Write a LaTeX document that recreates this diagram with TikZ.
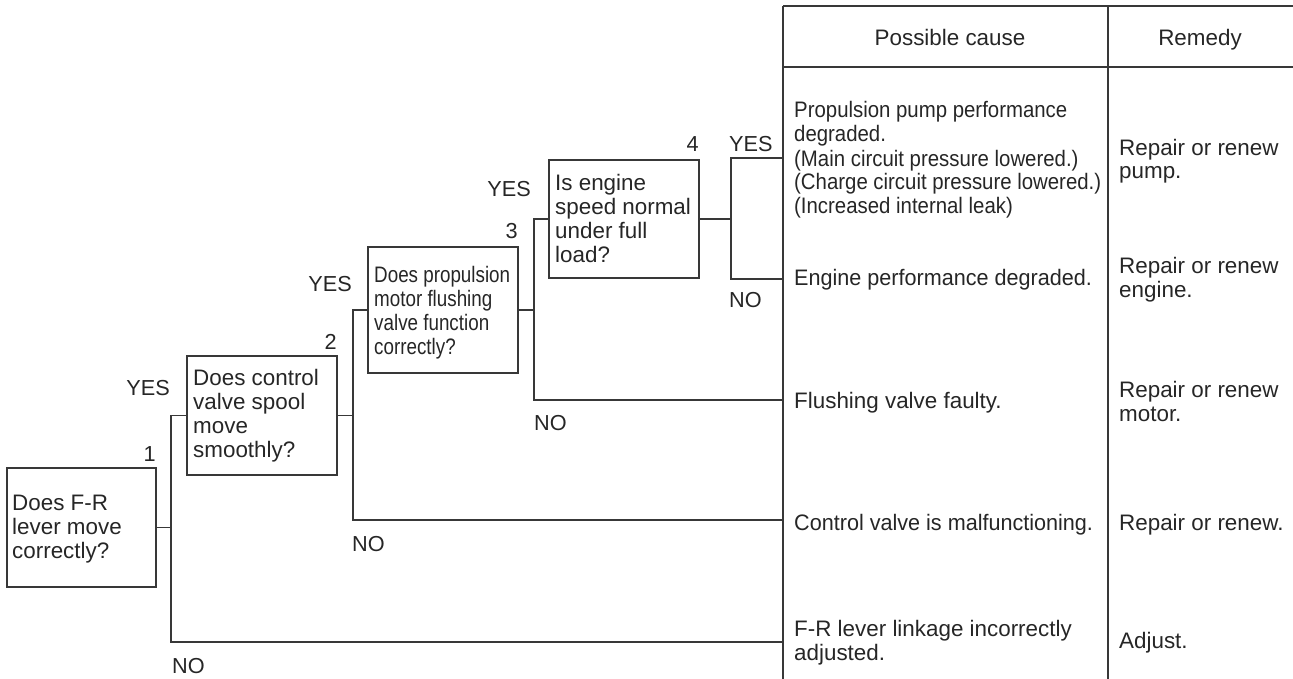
\documentclass[tikz,border=0pt]{standalone}
\usepackage{fontspec}
\setmainfont{Liberation Sans}
\newfontfamily\narrowfont[FakeStretch=0.84]{Liberation Sans}
\newfontfamily\condfont[FakeStretch=0.91]{Liberation Sans}
\newfontfamily\semifont[FakeStretch=0.964]{Liberation Sans}
\newcommand\sz{\fontsize{22.4}{24}\selectfont}
\begin{document}
\begin{tikzpicture}[x=1pt,y=-1pt,
  ink/.style={black!85},
  line/.style={draw=black!78,line width=1.2pt},
  qbox/.style={line,rectangle,inner sep=0pt,minimum width=150pt},
  txt/.style={ink,inner sep=0pt,anchor=base west,align=left,font=\sz},
  lab/.style={ink,inner sep=0pt,font=\fontsize{21.7}{24}\selectfont},
  num/.style={ink,inner sep=0pt,anchor=base east,font=\fontsize{21.7}{24}\selectfont}]
\useasboundingbox (0,0) rectangle (1293,679);

% question boxes
\node[qbox,minimum width=149pt,minimum height=119pt] (b1) at (81.5,527.5) {};
\node[qbox,minimum height=119pt] (b2) at (262,415.5) {};
\node[qbox,minimum height=126pt] (b3) at (443,310) {};
\node[qbox,minimum height=118pt] (b4) at (624,219) {};

% (base anchor of a multi-line node = baseline of its last line)
\node[txt] (t1) at (12,558) {Does F-R\\lever move\\correctly?};
\node[txt] (t2) at (193,457) {Does control\\valve spool\\move\\smoothly?};
\node[txt,font=\narrowfont\sz] (t3) at (374,354.5) {Does propulsion\\motor flushing\\valve function\\correctly?};
\node[txt] (t4) at (555,262.5) {Is engine\\speed normal\\under full\\load?};

\node[num] (n1) at (156,461) {1};
\node[num] (n2) at (337,349.5) {2};
\node[num] (n3) at (518,239) {3};
\node[num] (n4) at (699,151.5) {4};

% table
\coordinate (tl) at (783,6);
\coordinate (tr) at (1293,6);
\coordinate (hl) at (783,67);
\coordinate (hr) at (1293,67);
\coordinate (ml) at (1108,6);
\coordinate (bl) at (783,679);
\coordinate (bm) at (1108,679);
\draw[line] (tl) -- (tr);
\draw[line] (hl) -- (hr);
\draw[line] (tl) -- (bl);
\draw[line] (ml) -- (bm);

\node[txt,anchor=base] (hc) at (950,45.5) {Possible cause};
\node[txt,anchor=base] (hrm) at (1200,45.5) {Remedy};

\node[txt,font=\condfont\sz] (c1) at (794,214) {Propulsion pump performance\\degraded.\\(Main circuit pressure lowered.)\\(Charge circuit pressure lowered.)\\(Increased internal leak)};
\node[txt,font=\semifont\sz] (c2) at (794,285) {Engine performance degraded.};
\node[txt] (c3) at (794,408) {Flushing valve faulty.};
\node[txt,font=\semifont\sz] (c4) at (794,530) {Control valve is malfunctioning.};
\node[txt] (c5) at (794,660.5) {F-R lever linkage incorrectly\\adjusted.};

\node[txt] (r1) at (1119,179) {Repair or renew\\pump.};
\node[txt] (r2) at (1119,297) {Repair or renew\\engine.};
\node[txt] (r3) at (1119,421) {Repair or renew\\motor.};
\node[txt] (r4) at (1119,530) {Repair or renew.};
\node[txt] (r5) at (1119,648) {Adjust.};

% branch points and ends on the table border
\coordinate (j1) at (171,527.5);
\coordinate (j2) at (353,415.5);
\coordinate (j3) at (534,310);
\coordinate (j4) at (731,219);
\coordinate (e1) at (783,158);
\coordinate (e2) at (783,279);
\coordinate (e3) at (783,400);
\coordinate (e4) at (783,520);
\coordinate (e5) at (783,642);

% connectors
\draw[line] (b1.east) -- (j1);
\draw[line] (b2.west) -| (j1) |- (e5);
\draw[line] (b2.east) -- (j2);
\draw[line] (b3.west) -| (j2) |- (e4);
\draw[line] (b3.east) -- (j3);
\draw[line] (b4.west) -| (j3) |- (e3);
\draw[line] (b4.east) -- (j4);
\draw[line] (e1) -| (j4) |- (e2);

% YES / NO labels
\node[lab,anchor=base east] (y2) at (170,395.5) {YES};
\node[lab,anchor=base east] (y3) at (352,291.5) {YES};
\node[lab,anchor=base east] (y4) at (531,196.5) {YES};
\node[lab,anchor=base west] (y5) at (729,151.5) {YES};
\node[lab,anchor=base west] (no1) at (172,673) {NO};
\node[lab,anchor=base west] (no2) at (352,551.5) {NO};
\node[lab,anchor=base west] (no3) at (534,430.5) {NO};
\node[lab,anchor=base west] (no4) at (729,307.5) {NO};
\end{tikzpicture}
\end{document}
